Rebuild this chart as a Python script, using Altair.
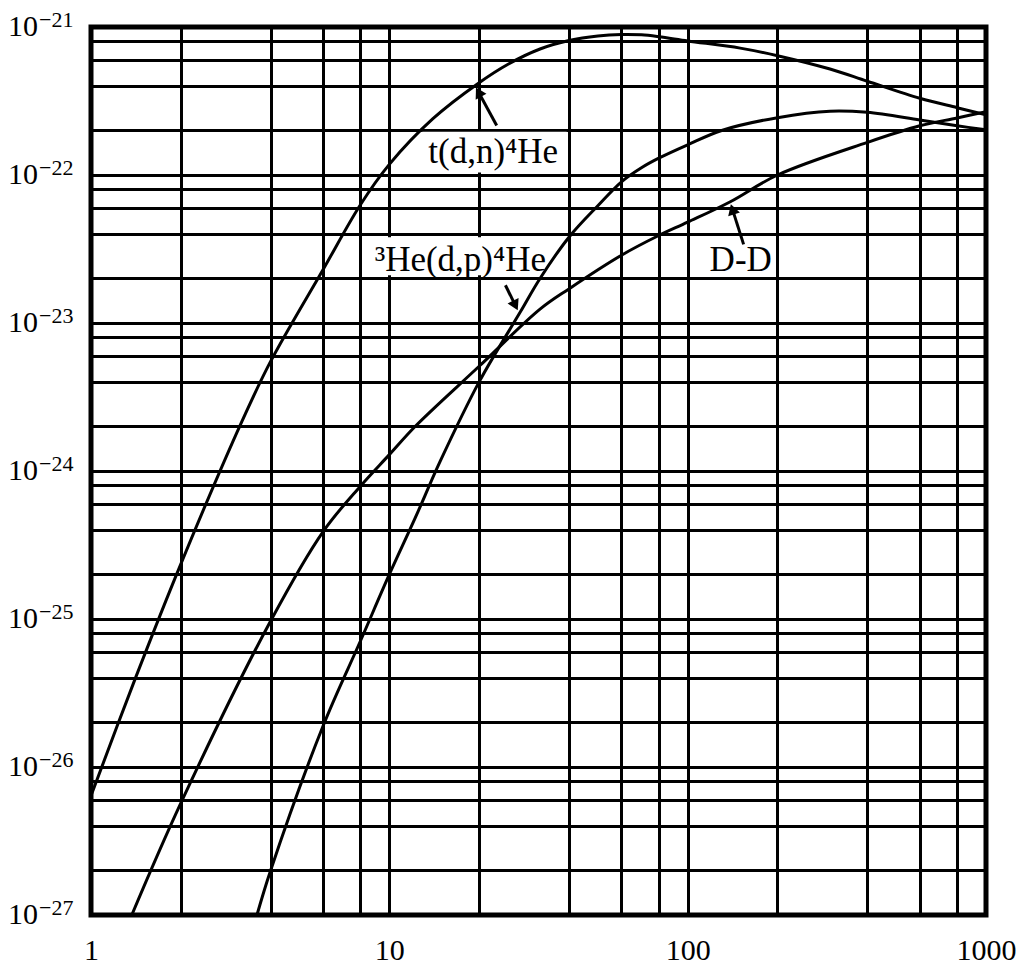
import math
import altair as alt
import pandas as pd

# ---------------- data ----------------
T_DT = [1, 1.41, 2, 3.2, 4, 6, 8, 10, 14, 20, 25, 32, 40, 50, 60, 70, 80, 100, 150, 200,
        300, 400, 600, 800, 1000]
SV_DT = [6.4e-27, 4.0e-26, 2.35e-25, 2.15e-24, 5.5e-24, 2.3e-23, 6.3e-23, 1.18e-22,
         2.4e-22, 4.2e-22, 5.6e-22, 7.1e-22, 8.1e-22, 8.7e-22, 8.9e-22, 8.85e-22,
         8.6e-22, 8.05e-22, 7.2e-22, 6.4e-22, 5.2e-22, 4.3e-22, 3.3e-22, 2.85e-22, 2.55e-22]

T_DHE3 = [3.6, 4, 6, 8, 10, 12.2, 14.8, 20, 27.5, 32, 40, 50, 60, 70, 80, 100, 130, 200,
          300, 400, 600, 800, 1000]
SV_DHE3 = [1e-27, 2.0e-27, 1.9e-26, 7.1e-26, 2.0e-25, 4.8e-25, 1.16e-24, 4.0e-24,
           1.19e-23, 2.0e-23, 3.8e-23, 6.2e-23, 9.0e-23, 1.12e-22, 1.3e-22, 1.6e-22,
           2.0e-22, 2.44e-22, 2.7e-22, 2.65e-22, 2.35e-22, 2.15e-22, 2.02e-22]

T_DD = [1.37, 2, 4, 6, 8, 10, 12.2, 20, 32, 40, 60, 80, 100, 139, 200, 400, 600, 800, 1000]
SV_DD = [1e-27, 5.7e-27, 9.7e-26, 3.9e-25, 7.9e-25, 1.29e-24, 2.0e-24, 5.1e-24, 1.24e-23,
         1.7e-23, 2.87e-23, 3.9e-23, 4.8e-23, 6.6e-23, 1.0e-22, 1.66e-22, 2.15e-22,
         2.43e-22, 2.68e-22]

X_GRID = [1, 2, 4, 6, 8, 10, 20, 40, 60, 80, 100, 200, 400, 600, 800, 1000]
Y_GRID = [m * 10.0 ** e for e in range(-27, -21) for m in (1, 2, 4, 6, 8)] + [1e-21]

X_TICK_VALUES = [1, 10, 100, 1000]
X_TICK_LABELS = ["1", "10", "100", "1000"]

Y_TICK_VALUES = [1e-27, 1e-26, 1e-25, 1e-24, 1e-23, 1e-22, 1e-21]
Y_TICK_MANTISSA = ["10"] * 7
Y_TICK_EXPONENT = ["−27", "−26", "−25", "−24", "−23", "−22", "−21"]

LABEL_TEXT = ["t(d,n)⁴He", "³He(d,p)⁴He", "D-D"]
LABEL_T = [22.3, 17.3, 150.6]
LABEL_SV = [1.42e-22, 2.65e-23, 2.65e-23]

BOX_T1 = [12.9, 8.3]
BOX_T2 = [39.3, 35.0]
BOX_SV1 = [1.04e-22, 2.1e-23]
BOX_SV2 = [1.96e-22, 3.79e-23]

ARROW_TAIL_T = [22.9, 24.5, 154.0]
ARROW_TAIL_SV = [2.16e-22, 1.80e-23, 3.4e-23]
ARROW_TIP_T = [19.4, 27.1, 139.0]
ARROW_TIP_SV = [4.0e-22, 1.19e-23, 6.5e-23]

# ---------------- chart ----------------
W, H = 895, 888
FONT = "Liberation Serif"

xscale = alt.Scale(type="log", domain=[1, 1000], nice=False)
yscale = alt.Scale(type="log", domain=[1e-27, 1e-21], nice=False)

x_expr = " : ".join(
    f"datum.value == {v} ? '{s}'" for v, s in zip(X_TICK_VALUES, X_TICK_LABELS)
) + " : ''"

xaxis = alt.Axis(values=X_GRID, grid=True, gridColor="black", gridWidth=3, gridOpacity=1,
                 ticks=False, tickSize=0, domain=False, labelExpr=x_expr,
                 labelFont=FONT, labelFontSize=30, labelColor="black",
                 labelPadding=20, labelFlush=False, labelOverlap=False, title=None)
yaxis = alt.Axis(values=Y_GRID, grid=True, gridColor="black", gridWidth=3, gridOpacity=1,
                 ticks=False, tickSize=0, domain=False, labels=False, title=None)

X = lambda f: alt.X(f, type="quantitative", scale=xscale, axis=xaxis)
Y = lambda f: alt.Y(f, type="quantitative", scale=yscale, axis=yaxis)

rows = []
for name, ts, vs in (("DT", T_DT, SV_DT), ("DHe3", T_DHE3, SV_DHE3), ("DD", T_DD, SV_DD)):
    for i, (t, v) in enumerate(zip(ts, vs)):
        rows.append({"series": name, "T": t, "sv": v, "order": i})
curves = pd.DataFrame(rows)

boxes = pd.DataFrame({"t1": BOX_T1, "t2": BOX_T2, "s1": BOX_SV1, "s2": BOX_SV2})
labels = pd.DataFrame({"text": LABEL_TEXT, "T": LABEL_T, "sv": LABEL_SV})
ylabels = pd.DataFrame({"v": Y_TICK_VALUES, "m": Y_TICK_MANTISSA, "e": Y_TICK_EXPONENT})


def px(t, s):
    return (math.log10(t) * W / 3.0, (-21 - math.log10(s)) * H / 6.0)


def data_of(x, y):
    return 10 ** (x * 3.0 / W), 10 ** (-21 - y * 6.0 / H)


arr_rows = []
head_rows = []
for t0, s0, t1, s1 in zip(ARROW_TAIL_T, ARROW_TAIL_SV, ARROW_TIP_T, ARROW_TIP_SV):
    x0, y0 = px(t0, s0)
    x1, y1 = px(t1, s1)
    dx, dy = x1 - x0, y1 - y0
    L = math.hypot(dx, dy)
    ux, uy = dx / L, dy / L
    ht, hs = data_of(x1 - 7 * ux, y1 - 7 * uy)
    ang = math.degrees(math.atan2(dx, -dy)) % 360
    lt, ls = data_of(x1 - 6 * ux, y1 - 6 * uy)
    arr_rows.append({"t0": t0, "s0": s0, "t1": lt, "s1": ls})
    head_rows.append({"T": ht, "sv": hs, "ang": ang})
arrows = pd.DataFrame(arr_rows)
heads = pd.DataFrame(head_rows)

box_layer = alt.Chart(boxes).mark_rect(color="white").encode(
    x=X("t1"), x2="t2", y=Y("s1"), y2="s2")

line_layer = alt.Chart(curves).mark_line(
    color="black", strokeWidth=3, interpolate="catmull-rom", clip=True
).encode(x=X("T"), y=Y("sv"), detail="series:N", order="order:Q")

text_layer = alt.Chart(labels).mark_text(
    font=FONT, fontSize=35, color="black", align="center", baseline="middle"
).encode(x=X("T"), y=Y("sv"), text="text:N")

arrow_layer = alt.Chart(arrows).mark_rule(color="black", strokeWidth=3).encode(
    x=X("t0"), y=Y("s0"), x2="t1", y2="s1")

head_layer = alt.Chart(heads).mark_point(
    shape="triangle-up", filled=True, color="black", size=150, opacity=1
).encode(x=X("T"), y=Y("sv"), angle=alt.Angle("ang:Q", scale=None))

ymant_layer = alt.Chart(ylabels).mark_text(
    font=FONT, fontSize=30, color="black", align="right", baseline="middle"
).encode(x=alt.value(-53), y=Y("v"), text="m:N")

yexp_layer = alt.Chart(ylabels).mark_text(
    font=FONT, fontSize=22, color="black", align="left", baseline="middle", dy=-7
).encode(x=alt.value(-52), y=Y("v"), text="e:N")

chart = alt.layer(
    box_layer, line_layer, text_layer, arrow_layer, head_layer, ymant_layer, yexp_layer
).properties(
    width=W, height=H,
    autosize=alt.AutoSizeParams(type="none"),
    padding={"left": 83, "top": 19, "right": 30, "bottom": 52},
    background="white",
).configure_view(stroke="black", strokeWidth=5)

chart.save("out.html", embed_options={"renderer": "svg", "actions": False})
